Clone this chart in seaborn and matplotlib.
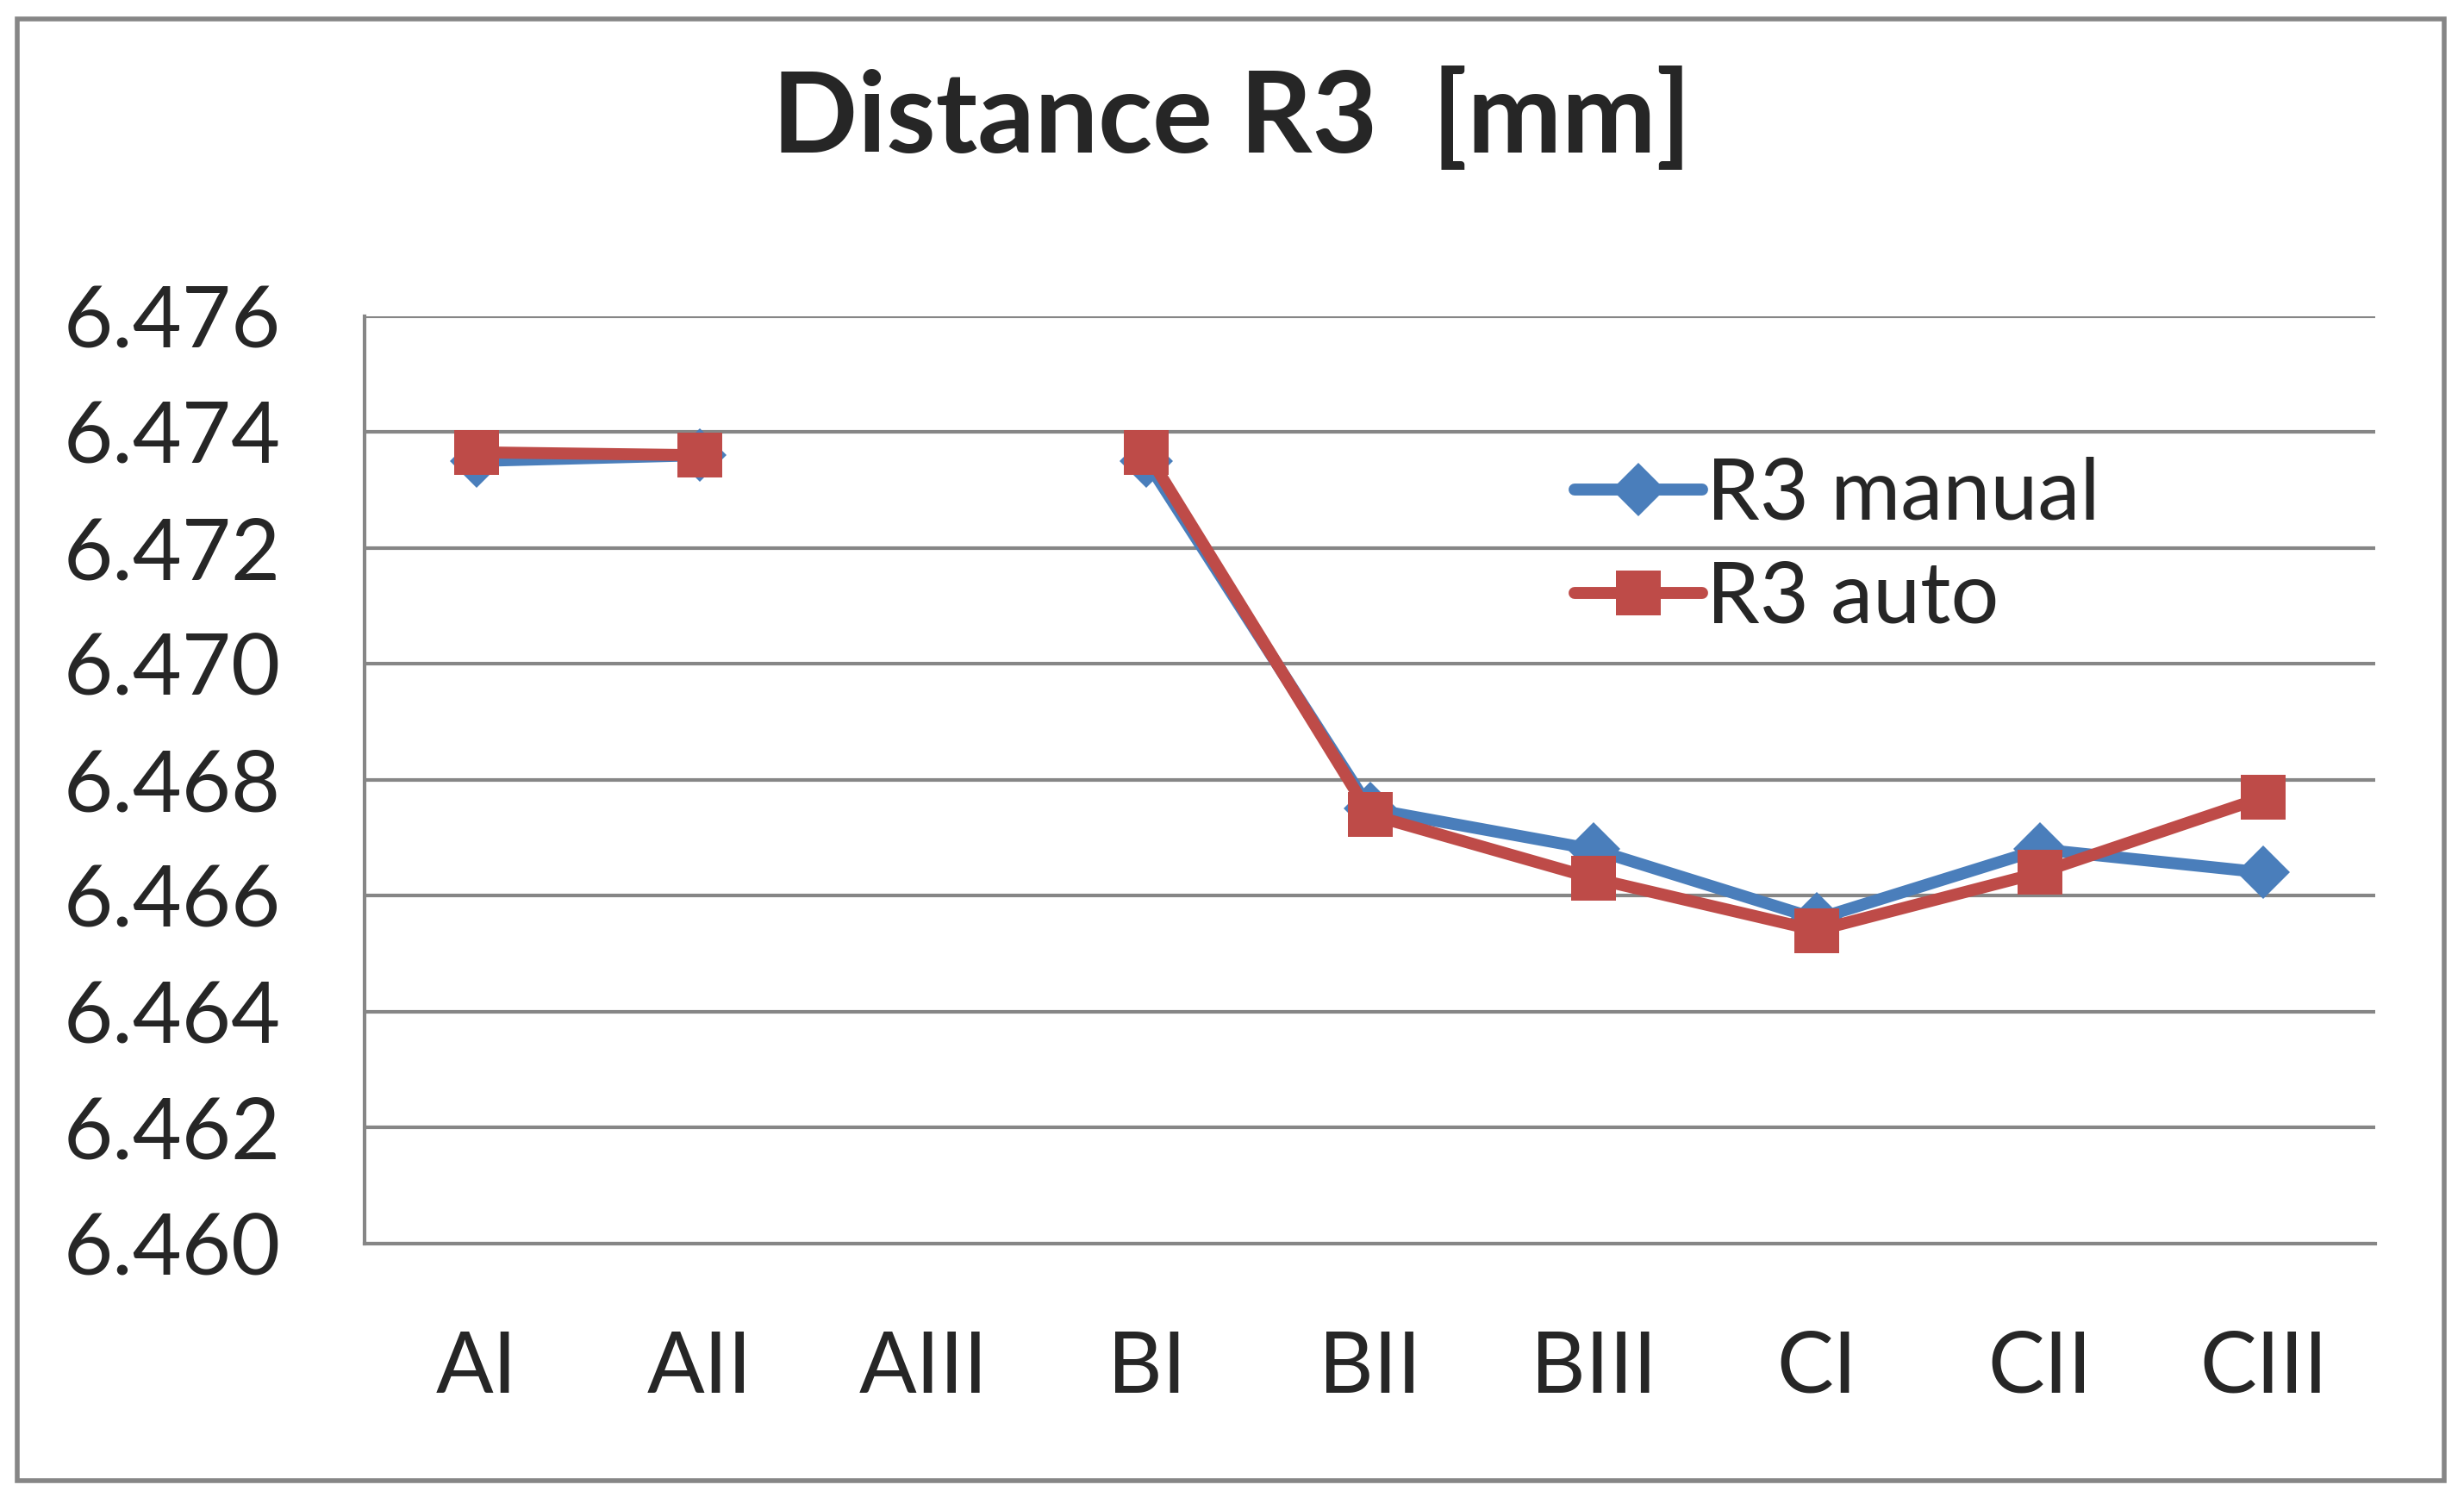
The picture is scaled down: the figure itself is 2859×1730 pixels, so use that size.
import numpy as np
import pandas as pd
import matplotlib
matplotlib.use("Agg")
import matplotlib.pyplot as plt
import matplotlib.patches as mpatches
from matplotlib.lines import Line2D
import seaborn as sns

categories = ["AI", "AII", "AIII", "BI", "BII", "BIII", "CI", "CII", "CIII"]
r3_manual = [6.4735, 6.4736, np.nan, 6.4735, 6.4675, 6.4668, 6.4656, 6.4668, 6.4664]
r3_auto = [6.47365, 6.4736, np.nan, 6.47365, 6.4674, 6.4663, 6.4654, 6.4664, 6.4677]
y_ticks = [6.460, 6.462, 6.464, 6.466, 6.468, 6.470, 6.472, 6.474, 6.476]

sns.set_style("white")
plt.rcParams["font.family"] = ["Lato", "DejaVu Sans"]

fig = plt.figure(figsize=(28.59, 17.30), dpi=100)
ax = fig.add_axes([0.148, 0.166, 0.816, 0.622])

series = [("R3 manual", r3_manual, "#4A7EBB", "D", 32),
          ("R3 auto", r3_auto, "#BE4B48", "s", 38)]
for name, vals, color, marker, ms in series:
    df = pd.DataFrame({"x": np.arange(len(categories)), "y": vals})
    seg = df["y"].isna().cumsum()
    for _, part in df[df["y"].notna()].groupby(seg[df["y"].notna()]):
        sns.lineplot(data=part, x="x", y="y", ax=ax, color=color, lw=10,
                     marker=marker, markersize=ms, markeredgewidth=0, sort=False)

ax.set_xlim(-0.5, len(categories) - 0.5)
ax.set_ylim(6.460, 6.476)
ax.set_yticks(y_ticks)
ax.set_yticklabels([f"{v:.3f}" for v in y_ticks])
ax.set_xticks(range(len(categories)))
ax.set_xticklabels(categories)
ax.tick_params(axis="both", labelsize=71, length=0)
ax.tick_params(axis="x", pad=72)
ax.tick_params(axis="y", pad=70)
ax.set_xlabel("")
ax.set_ylabel("")
ax.grid(axis="y", color="#868686", lw=3)
ax.set_axisbelow(True)
for s in ["top", "right"]:
    ax.spines[s].set_visible(False)
for s in ["left", "bottom"]:
    ax.spines[s].set_color("#868686")
    ax.spines[s].set_linewidth(3)

fig.suptitle("Distance R3  [mm]", fontsize=94, fontweight="bold", y=0.955)

handles = [Line2D([], [], color=c, lw=10, marker=m, markersize=ms, markeredgewidth=0)
           for _, _, c, m, ms in series]
fig.legend(handles, [s[0] for s in series], loc="upper left",
           bbox_to_anchor=(0.608, 0.745), frameon=False, fontsize=71,
           handlelength=1.5, handletextpad=0.05, labelspacing=0.3)

fig.patches.append(mpatches.Rectangle((0.007, 0.007), 0.985, 0.98, transform=fig.transFigure,
                                      fill=False, edgecolor="#868686", lw=4))
fig.savefig("out.png", dpi=100)
